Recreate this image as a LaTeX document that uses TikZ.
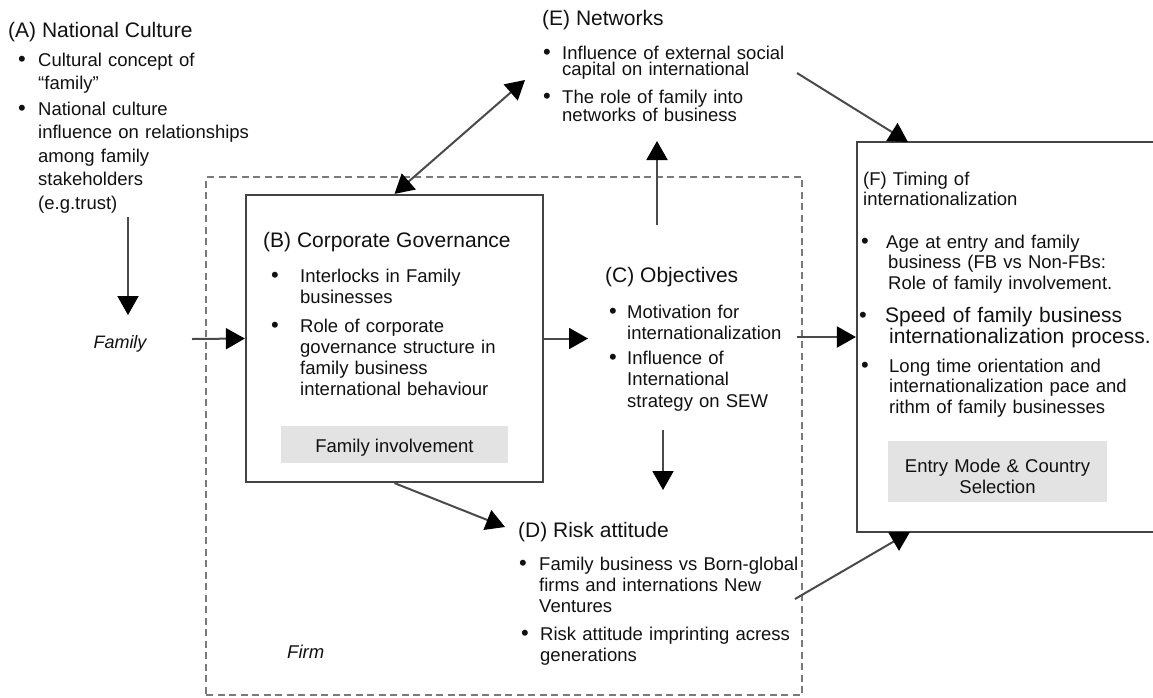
\documentclass[tikz,border=0pt]{standalone}
\usepackage{fontspec}
\setmainfont{Liberation Sans}
\usetikzlibrary{arrows.meta}
\definecolor{boxline}{HTML}{444444}
\definecolor{dashline}{HTML}{7A7A7A}
\definecolor{linegray}{HTML}{4A4A4A}
\definecolor{fillgray}{HTML}{E3E3E3}
\definecolor{txt}{HTML}{111111}
\tikzset{
  title/.style={anchor=base west, inner sep=0pt, text=txt, font=\fontsize{21}{24}\selectfont},
  item/.style={anchor=base west, inner sep=0pt, text=txt, text width=320pt, align=left},
  bul/.style={anchor=base, inner sep=0pt, text=txt, font=\fontsize{22}{22}\selectfont},
  fA/.style={font=\fontsize{18.5}{23.5}\selectfont},
  fB/.style={font=\fontsize{18.5}{21}\selectfont},
  fC/.style={font=\fontsize{18.5}{21.5}\selectfont},
  fE/.style={font=\fontsize{18.5}{16.5}\selectfont},
  fF/.style={font=\fontsize{18.5}{20.5}\selectfont},
  fBig/.style={font=\fontsize{21}{21}\selectfont},
  tip/.tip={Triangle[length=19pt,width=21pt,color=black]},
  conn/.style={draw=linegray, line width=2pt, -tip},
  conn2/.style={draw=linegray, line width=2pt, tip-tip},
  mainbox/.style={draw=boxline, line width=2.2pt, fill=white, rectangle, inner sep=0pt},
  graybox/.style={fill=fillgray, rectangle, inner sep=0pt},
  firmstyle/.style={draw=dashline, line width=2pt, dash pattern=on 7pt off 4.5pt, rectangle, inner sep=0pt},
}
\begin{document}
\begin{tikzpicture}[x=1pt,y=-1pt]
\useasboundingbox (0,0) rectangle (1153,697);

% Firm (dashed)
\node[firmstyle, minimum width=596pt, minimum height=518pt] (firm) at (504,436) {};
\node[anchor=base west, inner sep=0pt, text=txt, font=\fontsize{18.5}{21}\selectfont\itshape] (firmlbl) at (287,658) {Firm};

% (A) National Culture
\node[title] (Atitle) at (8,37) {(A) National Culture};
\node[bul] (Ab1) at (22,66) {•};
\node[item,fA] (Ai1) at (38,66) {Cultural concept of\\“family”};
\node[bul] (Ab2) at (22,115) {•};
\node[item,fA] (Ai2) at (38,115) {National culture\\influence on relationships\\among family\\stakeholders\\(e.g.trust)};
\node[anchor=base, inner sep=0pt, text=txt, font=\fontsize{18}{21}\selectfont\itshape] (fam) at (120,348) {Family};

% (B) Corporate Governance
\node[mainbox, minimum width=297pt, minimum height=287pt] (B) at (394.5,338.5) {};
\node[title] (Btitle) at (263,247) {(B) Corporate Governance};
\node[bul] (Bb1) at (275,282) {•};
\node[item,fB] (Bi1) at (300,282) {Interlocks in Family\\businesses};
\node[bul] (Bb2) at (275,332) {•};
\node[item,fB] (Bi2) at (300,332) {Role of corporate\\governance structure in\\family business\\international behaviour};
\node[graybox, minimum width=227pt, minimum height=37pt] (Binv) at (394.5,444.5) {};
\node[anchor=base, inner sep=0pt, text=txt, fB] (Binvt) at (394.5,452) {Family involvement};

% (C) Objectives
\node[title] (Ctitle) at (605,282) {(C) Objectives};
\node[bul] (Cb1) at (613,318) {•};
\node[item,fC] (Ci1) at (627,318) {Motivation for\\internationalization};
\node[bul] (Cb2) at (613,364) {•};
\node[item,fC] (Ci2) at (627,364) {Influence of\\International\\strategy on SEW};

% (D) Risk attitude
\node[title] (Dtitle) at (518,537) {(D) Risk attitude};
\node[bul] (Db1) at (523,570) {•};
\node[item,fB] (Di1) at (539,570) {Family business vs Born-global\\firms and internations New\\Ventures};
\node[bul] (Db2) at (525,640) {•};
\node[item,fB] (Di2) at (540,640) {Risk attitude imprinting acress\\generations};

% (E) Networks
\node[title] (Etitle) at (542,25) {(E) Networks};
\node[bul] (Eb1) at (547,59) {•};
\node[item,fE] (Ei1) at (562,59) {Influence of external social\\capital on international};
\node[bul] (Eb2) at (547,103) {•};
\node[item,fE] (Ei2) at (562,103) {The role of family into\\networks of business};

% connector end points
\coordinate (Aout) at (128,217);
\coordinate (Ain) at (128,315);
\coordinate (famR) at (192,339);
\coordinate (Cleft) at (588,338.5);
\coordinate (Ein) at (525,80);
\coordinate (Cup) at (657,225);
\coordinate (Ebot) at (657,141);
\coordinate (Cdown) at (663,430);
\coordinate (Dtop) at (663,490);
\coordinate (Dtl) at (505,527);
\coordinate (Cright) at (797,337);
\coordinate (Eright) at (797,73);
\coordinate (Ftop) at (908,142);
\coordinate (Dright) at (795,599);
\coordinate (Fbot) at (910,532);

% (F) box
\node[mainbox, minimum width=303pt, minimum height=390pt] (F) at (1008.5,337) {};

% connectors
\draw[conn] (Aout) -- (Ain);
\draw[conn] (famR) -- (B.west);
\draw[conn] (B.east) -- (Cleft);
\draw[conn2] (Ein) -- (B.north);
\draw[conn] (Cup) -- (Ebot);
\draw[conn] (Cdown) -- (Dtop);
\draw[conn] (B.south) -- (Dtl);
\draw[conn] (Cright) -- (F.west);
\draw[conn] (Eright) -- (Ftop);
\draw[conn] (Dright) -- (Fbot);

% (F) content
\node[item,fF] (Ftitle) at (863,185) {(F) Timing of\\internationalization};
\node[bul] (Fb1) at (865,248) {•};
\node[item,fF] (Fi1) at (886,248) {Age at entry and family\\\hspace*{2pt}business (FB vs Non-FBs:\\\hspace*{2pt}Role of family involvement.};
\node[bul] (Fb2) at (863,322) {•};
\node[item,fBig] (Fi2) at (885,322) {Speed of family business\\\hspace*{4pt}internationalization process.};
\node[bul] (Fb3) at (865,372) {•};
\node[item,fF] (Fi3) at (889,372) {Long time orientation and\\internationalization pace and\\rithm of family businesses};
\node[graybox, minimum width=219pt, minimum height=61pt] (Fent) at (997.5,471.5) {};
\node[anchor=base, inner sep=0pt, text=txt, text width=219pt, align=center, fB] (Fentt) at (997.5,472) {Entry Mode \& Country\\Selection};
\end{tikzpicture}
\end{document}
